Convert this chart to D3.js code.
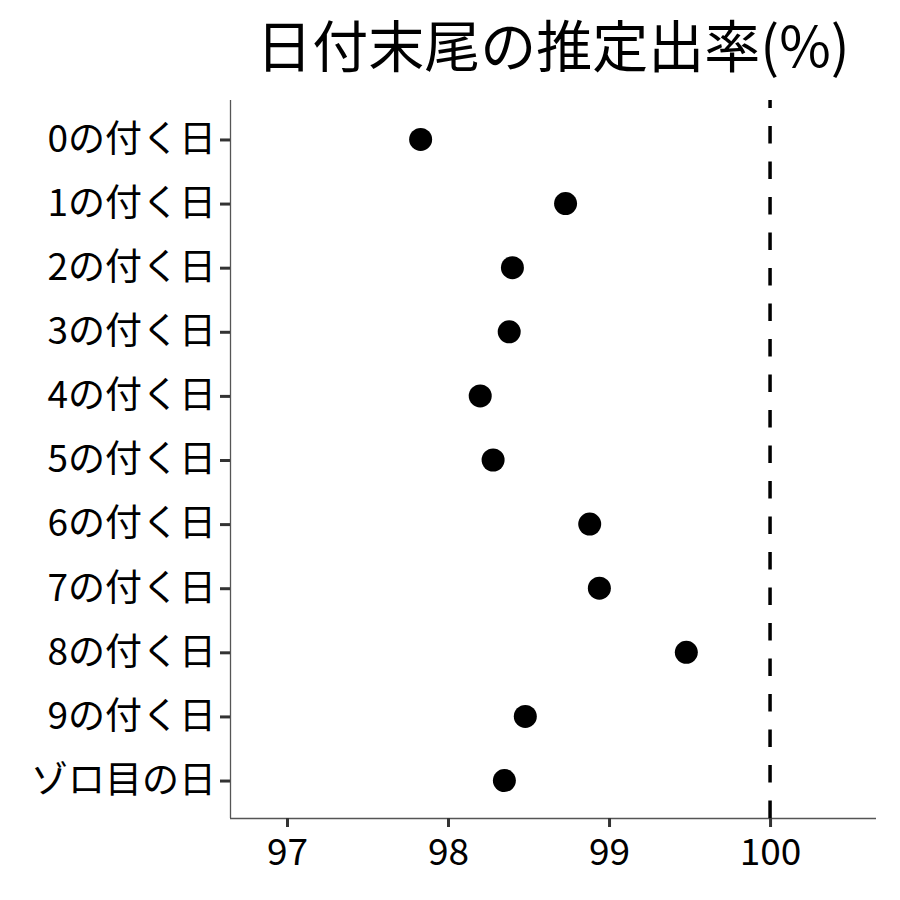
<!DOCTYPE html>
<html>
<head>
<meta charset="utf-8">
<script src="https://cdn.jsdelivr.net/npm/d3@7"></script>
<style>
  body { margin: 0; background: #fff; }
  text { font-family: "Noto Sans CJK JP", sans-serif; }
</style>
</head>
<body>
<div id="chart"></div>
<script>
// Data
var labels = ["0の付く日", "1の付く日", "2の付く日", "3の付く日", "4の付く日",
  "5の付く日", "6の付く日", "7の付く日", "8の付く日", "9の付く日", "ゾロ目の日"];
var rates = [97.83, 98.73, 98.40, 98.38, 98.20, 98.28, 98.88, 98.94, 99.48, 98.48, 98.35];
var xTicks = [97, 98, 99, 100];
var refValue = 100;

var svgWidth = 900;
var svgHeight = 900;

var margin = { top: 100, right: 24, bottom: 82, left: 230 };
var width = svgWidth - margin.left - margin.right;
var height = svgHeight - margin.top - margin.bottom;

var svg = d3.select("#chart")
  .append("svg")
  .attr("width", svgWidth)
  .attr("height", svgHeight);

var chartGroup = svg.append("g")
  .attr("transform", `translate(${margin.left}, ${margin.top})`);

// scales
var xScale = d3.scaleLinear()
  .domain([96.646, 100.658])
  .range([0, width]);

var yScale = d3.scalePoint()
  .domain(labels)
  .range([1, height + 1])
  .padding(0.6);

// axes
var bottomAxis = d3.axisBottom(xScale).tickValues(xTicks).tickSize(9).tickPadding(12).tickFormat(d3.format("d"));
var leftAxis = d3.axisLeft(yScale).tickSize(10).tickPadding(4);

var xAxis = chartGroup.append("g")
  .attr("transform", `translate(0, ${height})`)
  .call(bottomAxis);

var yAxis = chartGroup.append("g")
  .call(leftAxis);

[xAxis, yAxis].forEach(function(ax) {
  ax.select(".domain").attr("stroke", "#555").attr("stroke-width", 1.3);
  ax.selectAll(".tick line").attr("stroke", "#333").attr("stroke-width", 3);
  ax.selectAll(".tick text")
    .attr("fill", "#000")
    .style("font-size", "37px")
    .style("font-family", "'Noto Sans CJK JP', sans-serif");
});
// remove the end caps of the domain path
xAxis.select(".domain").attr("d", `M0,0.5H${width}`);
yAxis.select(".domain").attr("d", `M0.5,0V${height}`);
xAxis.selectAll(".tick text").attr("dy", "0.71em");

// reference line
chartGroup.append("line")
  .attr("x1", xScale(refValue))
  .attr("x2", xScale(refValue))
  .attr("y1", 0)
  .attr("y2", height)
  .attr("stroke", "#000")
  .attr("stroke-width", 3.5)
  .attr("stroke-dasharray", "17.5,18")
  .attr("stroke-dashoffset", 9.5);

// points
chartGroup.selectAll("circle")
  .data(rates)
  .enter()
  .append("circle")
  .attr("cx", d => xScale(d))
  .attr("cy", (d, i) => yScale(labels[i]))
  .attr("r", 11.5)
  .attr("fill", "#000");

// title
svg.append("text")
  .attr("x", 553)
  .attr("y", 67)
  .attr("text-anchor", "middle")
  .style("font-size", "56px")
  .attr("fill", "#000")
  .text("日付末尾の推定出率(%)");
</script>
</body>
</html>
